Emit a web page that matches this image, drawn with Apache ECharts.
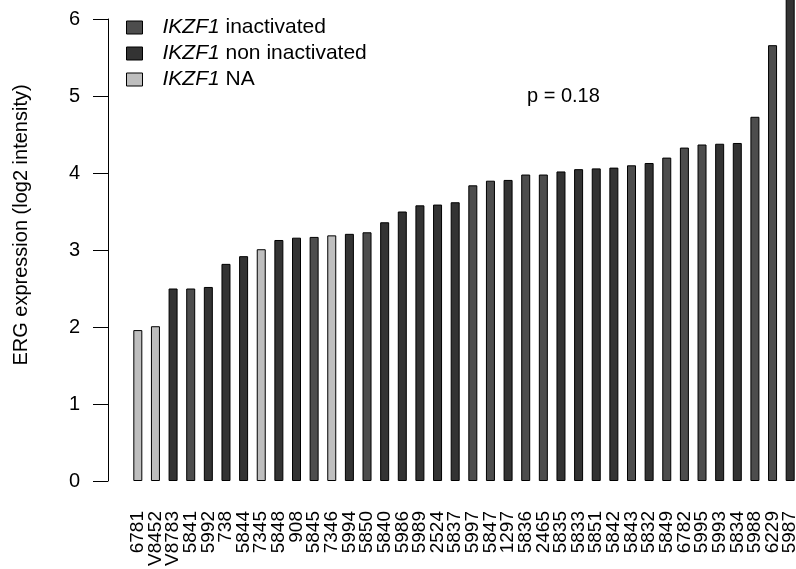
<!DOCTYPE html>
<html>
<head>
<meta charset="utf-8">
<script src="https://cdn.jsdelivr.net/npm/echarts@6/dist/echarts.min.js"></script>
<style>html,body{margin:0;padding:0;background:#fff;}#c{width:796px;height:569px;}</style>
</head>
<body>
<div id="c"></div>
<script>
const categories = ['6781','V8452','V8783','5841','5992','738','5844','7345','5848','908','5845','7346','5994','5850','5840','5986','5989','2524','5837','5997','5847','1297','5836','2465','5835','5833','5851','5842','5843','5832','5849','6782','5995','5993','5834','5988','6229','5987'];
const values = [1.96,2.01,2.50,2.50,2.52,2.82,2.92,3.01,3.13,3.16,3.17,3.19,3.21,3.23,3.36,3.50,3.58,3.59,3.62,3.84,3.90,3.91,3.98,3.98,4.02,4.05,4.06,4.07,4.10,4.13,4.20,4.33,4.37,4.38,4.39,4.73,5.66,6.45];
const groups = ['na','na','non','inact','non','non','non','na','non','non','inact','na','non','inact','non','non','non','non','non','inact','inact','non','inact','inact','non','non','non','non','inact','non','inact','inact','inact','non','non','inact','inact','non'];
const groupKeys = ['inact','non','na'];
const groupNames = ['IKZF1 inactivated','IKZF1 non inactivated','IKZF1 NA'];
const groupColors = ['#4d4d4d','#333333','#bebebe'];
const yTicks = [0,1,2,3,4,5,6];

const series = groupKeys.map((k, gi) => ({
  name: groupNames[gi],
  type: 'bar',
  barWidth: 9,
  barGap: '-100%',
  clip: false,
  itemStyle: { color: groupColors[gi], borderColor: '#000', borderWidth: 1 },
  data: values.map((v, i) => groups[i] === k ? v : null)
}));

const chart = echarts.init(document.getElementById('c'));
chart.setOption({
  animation: false,
  backgroundColor: '#fff',
  grid: { left: 129, width: 670, top: 19, bottom: 88, outerBoundsMode: 'none', containLabel: false },
  legend: {
    orient: 'vertical',
    left: 121, top: 12,
    itemWidth: 16, itemHeight: 13, itemGap: 5,
    icon: 'rect',
    itemStyle: { borderColor: '#000', borderWidth: 1 },
    textStyle: {
      fontFamily: 'Liberation Sans, Arial, sans-serif', fontSize: 21, color: '#000', lineHeight: 21,
      padding: [0, 0, 0, 15],
      rich: { i: { fontStyle: 'italic', fontSize: 21, fontFamily: 'Liberation Sans, Arial, sans-serif', color: '#000' } }
    },
    formatter: name => '{i|IKZF1}' + name.slice(5)
  },
  xAxis: {
    type: 'category',
    data: categories,
    axisLine: { show: false },
    axisTick: { show: false },
    axisLabel: { interval: 0, rotate: 90, margin: 30, fontSize: 19, color: '#000', fontFamily: 'Liberation Sans, Arial, sans-serif' }
  },
  yAxis: {
    type: 'value',
    min: 0, max: 6, interval: 1,
    offset: 21,
    splitLine: { show: false },
    axisLine: { show: true, lineStyle: { color: '#000', width: 1 } },
    axisTick: { show: true, length: 15, lineStyle: { color: '#000', width: 1 } },
    axisLabel: { margin: 28, fontSize: 20, color: '#000', fontFamily: 'Liberation Sans, Arial, sans-serif',
      formatter: v => yTicks.includes(v) ? String(v) : '' }
  },
  graphic: [
    { type: 'text', x: 21, y: 225, rotation: Math.PI / 2,
      style: { text: 'ERG expression (log2 intensity)', fontSize: 20, fontFamily: 'Liberation Sans, Arial, sans-serif', fill: '#000', align: 'center', verticalAlign: 'middle' } },
    { type: 'text', x: 527, y: 96,
      style: { text: 'p = 0.18', fontSize: 20, fontFamily: 'Liberation Sans, Arial, sans-serif', fill: '#000', align: 'left', verticalAlign: 'middle' } }
  ],
  series: series
});
</script>
</body>
</html>
